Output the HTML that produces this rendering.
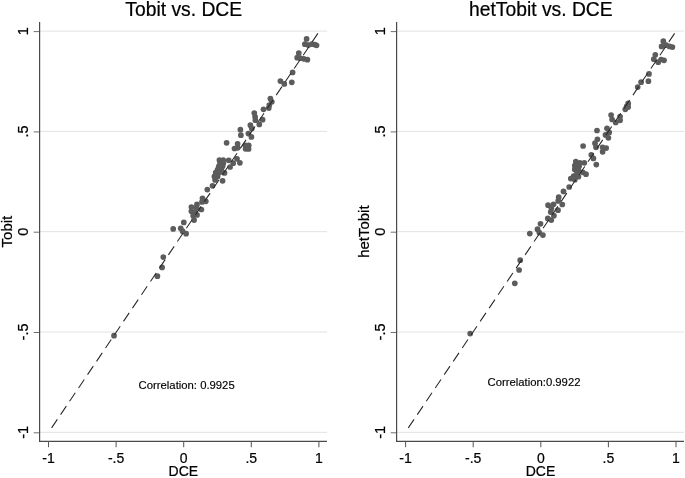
<!DOCTYPE html>
<html><head><meta charset="utf-8"><title>Tobit vs. DCE</title>
<style>
html,body{margin:0;padding:0;background:#fff;overflow:hidden}
svg{display:block}
text{font-family:"Liberation Sans",Arial,sans-serif;fill:#000;stroke:#000;stroke-width:0.22px}
.t{font-size:14px}
.h{font-size:19.3px}
.c{font-size:11.3px;stroke-width:0.15px}
circle{fill:#5c5c5c}
</style></head><body>
<svg width="685" height="478" viewBox="0 0 685 478">
<rect width="685" height="478" fill="#fff"/>
<g>
<line x1="39.5" y1="31.1" x2="327.0" y2="31.1" stroke="#e2e2e2" stroke-width="1"/>
<line x1="39.5" y1="131.4" x2="327.0" y2="131.4" stroke="#e2e2e2" stroke-width="1"/>
<line x1="39.5" y1="231.7" x2="327.0" y2="231.7" stroke="#e2e2e2" stroke-width="1"/>
<line x1="39.5" y1="332.0" x2="327.0" y2="332.0" stroke="#e2e2e2" stroke-width="1"/>
<line x1="39.5" y1="432.3" x2="327.0" y2="432.3" stroke="#e2e2e2" stroke-width="1"/>
<circle cx="306.6" cy="38.9" r="2.85"/>
<circle cx="304.9" cy="44.2" r="2.85"/>
<circle cx="308.3" cy="45.1" r="2.85"/>
<circle cx="311.8" cy="44.1" r="2.85"/>
<circle cx="314.6" cy="44.5" r="2.85"/>
<circle cx="316.5" cy="45.3" r="2.85"/>
<circle cx="298.8" cy="53.1" r="2.85"/>
<circle cx="297.2" cy="57.7" r="2.85"/>
<circle cx="300.2" cy="58.2" r="2.85"/>
<circle cx="303.8" cy="58.8" r="2.85"/>
<circle cx="307.4" cy="59.7" r="2.85"/>
<circle cx="292.6" cy="72.4" r="2.85"/>
<circle cx="280.4" cy="81.1" r="2.85"/>
<circle cx="284.3" cy="83.9" r="2.85"/>
<circle cx="291.8" cy="82.3" r="2.85"/>
<circle cx="270.4" cy="98.7" r="2.85"/>
<circle cx="271.8" cy="101.8" r="2.85"/>
<circle cx="269.3" cy="105.1" r="2.85"/>
<circle cx="268.8" cy="108.1" r="2.85"/>
<circle cx="263.5" cy="109.3" r="2.85"/>
<circle cx="254.3" cy="113.0" r="2.85"/>
<circle cx="255.1" cy="116.8" r="2.85"/>
<circle cx="255.4" cy="120.2" r="2.85"/>
<circle cx="262.6" cy="119.7" r="2.85"/>
<circle cx="259.3" cy="124.4" r="2.85"/>
<circle cx="250.4" cy="125.2" r="2.85"/>
<circle cx="251.8" cy="128.5" r="2.85"/>
<circle cx="240.4" cy="129.7" r="2.85"/>
<circle cx="248.4" cy="133.6" r="2.85"/>
<circle cx="240.9" cy="135.2" r="2.85"/>
<circle cx="251.4" cy="136.9" r="2.85"/>
<circle cx="226.6" cy="142.8" r="2.85"/>
<circle cx="237.6" cy="143.8" r="2.85"/>
<circle cx="234.5" cy="148.5" r="2.85"/>
<circle cx="237.6" cy="147.8" r="2.85"/>
<circle cx="245.4" cy="145.3" r="2.85"/>
<circle cx="248.7" cy="145.4" r="2.85"/>
<circle cx="245.6" cy="148.8" r="2.85"/>
<circle cx="248.6" cy="149.0" r="2.85"/>
<circle cx="237.0" cy="158.8" r="2.85"/>
<circle cx="239.9" cy="162.8" r="2.85"/>
<circle cx="219.4" cy="160.1" r="2.85"/>
<circle cx="223.2" cy="160.1" r="2.85"/>
<circle cx="228.7" cy="160.3" r="2.85"/>
<circle cx="220.1" cy="163.2" r="2.85"/>
<circle cx="223.3" cy="163.2" r="2.85"/>
<circle cx="233.2" cy="163.2" r="2.85"/>
<circle cx="218.8" cy="166.3" r="2.85"/>
<circle cx="222.6" cy="166.3" r="2.85"/>
<circle cx="230.1" cy="167.0" r="2.85"/>
<circle cx="217.6" cy="169.5" r="2.85"/>
<circle cx="221.3" cy="169.5" r="2.85"/>
<circle cx="215.7" cy="172.6" r="2.85"/>
<circle cx="219.4" cy="172.6" r="2.85"/>
<circle cx="224.5" cy="172.9" r="2.85"/>
<circle cx="214.4" cy="176.4" r="2.85"/>
<circle cx="217.6" cy="176.4" r="2.85"/>
<circle cx="215.1" cy="179.9" r="2.85"/>
<circle cx="222.6" cy="180.8" r="2.85"/>
<circle cx="212.5" cy="185.8" r="2.85"/>
<circle cx="207.3" cy="189.6" r="2.85"/>
<circle cx="202.5" cy="198.3" r="2.85"/>
<circle cx="205.8" cy="201.3" r="2.85"/>
<circle cx="202.0" cy="201.9" r="2.85"/>
<circle cx="197.0" cy="204.4" r="2.85"/>
<circle cx="191.4" cy="207.0" r="2.85"/>
<circle cx="196.4" cy="207.6" r="2.85"/>
<circle cx="201.4" cy="209.5" r="2.85"/>
<circle cx="191.4" cy="211.3" r="2.85"/>
<circle cx="195.1" cy="212.0" r="2.85"/>
<circle cx="197.0" cy="214.9" r="2.85"/>
<circle cx="193.2" cy="215.7" r="2.85"/>
<circle cx="194.1" cy="220.1" r="2.85"/>
<circle cx="183.8" cy="222.4" r="2.85"/>
<circle cx="180.7" cy="228.3" r="2.85"/>
<circle cx="173.2" cy="228.9" r="2.85"/>
<circle cx="182.6" cy="231.2" r="2.85"/>
<circle cx="186.1" cy="233.7" r="2.85"/>
<circle cx="163.3" cy="257.1" r="2.85"/>
<circle cx="162.1" cy="267.4" r="2.85"/>
<circle cx="157.4" cy="276.2" r="2.85"/>
<circle cx="114.0" cy="335.7" r="2.85"/>
<line x1="51.6" y1="427.9" x2="317.9" y2="33.4" stroke="#262626" stroke-width="1.05" stroke-dasharray="10.26 5.8"/>
<line x1="39.6" y1="22" x2="39.6" y2="441.9" stroke="#4a4a4a" stroke-width="1.2"/>
<line x1="39.0" y1="441.35" x2="327.0" y2="441.35" stroke="#4a4a4a" stroke-width="1.1"/>
<line x1="33.7" y1="31.6" x2="39.5" y2="31.6" stroke="#555" stroke-width="0.85"/>
<text class="t" transform="translate(27.7,31.1) rotate(-90)" text-anchor="middle" style="font-size:14.5px">1</text>
<line x1="33.7" y1="131.9" x2="39.5" y2="131.9" stroke="#555" stroke-width="0.85"/>
<text class="t" transform="translate(27.7,131.4) rotate(-90)" text-anchor="middle" style="font-size:14.5px">.5</text>
<line x1="33.7" y1="232.2" x2="39.5" y2="232.2" stroke="#555" stroke-width="0.85"/>
<text class="t" transform="translate(27.7,231.7) rotate(-90)" text-anchor="middle" style="font-size:14.5px">0</text>
<line x1="33.7" y1="332.5" x2="39.5" y2="332.5" stroke="#555" stroke-width="0.85"/>
<text class="t" transform="translate(27.7,332.0) rotate(-90)" text-anchor="middle" style="font-size:14.5px">-.5</text>
<line x1="33.7" y1="432.8" x2="39.5" y2="432.8" stroke="#555" stroke-width="0.85"/>
<text class="t" transform="translate(27.7,432.3) rotate(-90)" text-anchor="middle" style="font-size:14.5px">-1</text>
<line x1="48.5" y1="441.4" x2="48.5" y2="447.2" stroke="#5a5a5a" stroke-width="1.05"/>
<text class="t" x="48.5" y="462.6" text-anchor="middle">-1</text>
<line x1="116.1" y1="441.4" x2="116.1" y2="447.2" stroke="#5a5a5a" stroke-width="1.05"/>
<text class="t" x="116.1" y="462.6" text-anchor="middle">-.5</text>
<line x1="183.7" y1="441.4" x2="183.7" y2="447.2" stroke="#5a5a5a" stroke-width="1.05"/>
<text class="t" x="183.7" y="462.6" text-anchor="middle">0</text>
<line x1="251.29999999999998" y1="441.4" x2="251.29999999999998" y2="447.2" stroke="#5a5a5a" stroke-width="1.05"/>
<text class="t" x="251.29999999999998" y="462.6" text-anchor="middle">.5</text>
<line x1="318.9" y1="441.4" x2="318.9" y2="447.2" stroke="#5a5a5a" stroke-width="1.05"/>
<text class="t" x="318.9" y="462.6" text-anchor="middle">1</text>
<text class="t" x="183.39999999999998" y="476" text-anchor="middle">DCE</text>
<text class="t" transform="translate(11.7,231.6) rotate(-90) scale(1.068,1)" text-anchor="middle">Tobit</text>
<text class="h" x="183.7" y="15.6" text-anchor="middle">Tobit vs. DCE</text>
<text class="c" x="138.6" y="388.9">Correlation: 0.9925</text>
</g>
<g>
<line x1="396.5" y1="31.1" x2="684.0" y2="31.1" stroke="#e2e2e2" stroke-width="1"/>
<line x1="396.5" y1="131.4" x2="684.0" y2="131.4" stroke="#e2e2e2" stroke-width="1"/>
<line x1="396.5" y1="231.7" x2="684.0" y2="231.7" stroke="#e2e2e2" stroke-width="1"/>
<line x1="396.5" y1="332.0" x2="684.0" y2="332.0" stroke="#e2e2e2" stroke-width="1"/>
<line x1="396.5" y1="432.3" x2="684.0" y2="432.3" stroke="#e2e2e2" stroke-width="1"/>
<circle cx="663.3" cy="41.2" r="2.85"/>
<circle cx="661.6" cy="46.4" r="2.85"/>
<circle cx="666.2" cy="45.2" r="2.85"/>
<circle cx="669.5" cy="46.4" r="2.85"/>
<circle cx="672.4" cy="47.1" r="2.85"/>
<circle cx="655.3" cy="54.8" r="2.85"/>
<circle cx="653.8" cy="59.2" r="2.85"/>
<circle cx="658.2" cy="62.2" r="2.85"/>
<circle cx="661.1" cy="59.5" r="2.85"/>
<circle cx="664.0" cy="60.3" r="2.85"/>
<circle cx="649.0" cy="73.9" r="2.85"/>
<circle cx="648.4" cy="81.2" r="2.85"/>
<circle cx="641.1" cy="82.2" r="2.85"/>
<circle cx="637.7" cy="87.1" r="2.85"/>
<circle cx="628.2" cy="103.4" r="2.85"/>
<circle cx="626.7" cy="106.4" r="2.85"/>
<circle cx="625.3" cy="109.3" r="2.85"/>
<circle cx="628.2" cy="107.1" r="2.85"/>
<circle cx="611.1" cy="115.1" r="2.85"/>
<circle cx="620.1" cy="116.6" r="2.85"/>
<circle cx="612.1" cy="119.5" r="2.85"/>
<circle cx="620.1" cy="120.3" r="2.85"/>
<circle cx="615.7" cy="122.5" r="2.85"/>
<circle cx="607.0" cy="128.3" r="2.85"/>
<circle cx="597.0" cy="130.5" r="2.85"/>
<circle cx="609.2" cy="132.4" r="2.85"/>
<circle cx="605.5" cy="134.9" r="2.85"/>
<circle cx="608.4" cy="137.8" r="2.85"/>
<circle cx="597.4" cy="139.3" r="2.85"/>
<circle cx="595.0" cy="143.2" r="2.85"/>
<circle cx="596.0" cy="147.3" r="2.85"/>
<circle cx="602.6" cy="147.3" r="2.85"/>
<circle cx="606.2" cy="148.1" r="2.85"/>
<circle cx="583.1" cy="146.0" r="2.85"/>
<circle cx="602.6" cy="151.8" r="2.85"/>
<circle cx="591.3" cy="154.8" r="2.85"/>
<circle cx="593.4" cy="158.4" r="2.85"/>
<circle cx="596.3" cy="164.6" r="2.85"/>
<circle cx="575.8" cy="161.6" r="2.85"/>
<circle cx="579.9" cy="162.8" r="2.85"/>
<circle cx="584.3" cy="162.8" r="2.85"/>
<circle cx="574.8" cy="165.7" r="2.85"/>
<circle cx="579.2" cy="166.0" r="2.85"/>
<circle cx="574.8" cy="169.4" r="2.85"/>
<circle cx="578.4" cy="169.8" r="2.85"/>
<circle cx="577.0" cy="172.8" r="2.85"/>
<circle cx="582.8" cy="172.3" r="2.85"/>
<circle cx="586.0" cy="174.2" r="2.85"/>
<circle cx="573.7" cy="176.0" r="2.85"/>
<circle cx="578.4" cy="176.7" r="2.85"/>
<circle cx="570.8" cy="178.6" r="2.85"/>
<circle cx="574.8" cy="179.7" r="2.85"/>
<circle cx="569.2" cy="187.0" r="2.85"/>
<circle cx="563.5" cy="191.4" r="2.85"/>
<circle cx="558.7" cy="197.2" r="2.85"/>
<circle cx="558.2" cy="200.9" r="2.85"/>
<circle cx="562.3" cy="204.5" r="2.85"/>
<circle cx="548.1" cy="205.2" r="2.85"/>
<circle cx="553.5" cy="204.3" r="2.85"/>
<circle cx="551.4" cy="208.4" r="2.85"/>
<circle cx="558.0" cy="210.2" r="2.85"/>
<circle cx="550.7" cy="212.1" r="2.85"/>
<circle cx="553.9" cy="215.7" r="2.85"/>
<circle cx="547.8" cy="218.4" r="2.85"/>
<circle cx="551.3" cy="220.1" r="2.85"/>
<circle cx="540.5" cy="223.8" r="2.85"/>
<circle cx="537.5" cy="229.2" r="2.85"/>
<circle cx="529.8" cy="233.6" r="2.85"/>
<circle cx="539.3" cy="232.6" r="2.85"/>
<circle cx="542.9" cy="235.1" r="2.85"/>
<circle cx="520.2" cy="260.2" r="2.85"/>
<circle cx="519.1" cy="270.0" r="2.85"/>
<circle cx="514.8" cy="283.3" r="2.85"/>
<circle cx="470.2" cy="333.6" r="2.85"/>
<line x1="408.3" y1="427.9" x2="674.6" y2="33.4" stroke="#262626" stroke-width="1.05" stroke-dasharray="10.26 5.8"/>
<line x1="396.6" y1="22" x2="396.6" y2="441.9" stroke="#4a4a4a" stroke-width="1.2"/>
<line x1="396.0" y1="441.35" x2="684.0" y2="441.35" stroke="#4a4a4a" stroke-width="1.1"/>
<line x1="390.7" y1="31.6" x2="396.5" y2="31.6" stroke="#555" stroke-width="0.85"/>
<text class="t" transform="translate(384.7,31.1) rotate(-90)" text-anchor="middle" style="font-size:14.5px">1</text>
<line x1="390.7" y1="131.9" x2="396.5" y2="131.9" stroke="#555" stroke-width="0.85"/>
<text class="t" transform="translate(384.7,131.4) rotate(-90)" text-anchor="middle" style="font-size:14.5px">.5</text>
<line x1="390.7" y1="232.2" x2="396.5" y2="232.2" stroke="#555" stroke-width="0.85"/>
<text class="t" transform="translate(384.7,231.7) rotate(-90)" text-anchor="middle" style="font-size:14.5px">0</text>
<line x1="390.7" y1="332.5" x2="396.5" y2="332.5" stroke="#555" stroke-width="0.85"/>
<text class="t" transform="translate(384.7,332.0) rotate(-90)" text-anchor="middle" style="font-size:14.5px">-.5</text>
<line x1="390.7" y1="432.8" x2="396.5" y2="432.8" stroke="#555" stroke-width="0.85"/>
<text class="t" transform="translate(384.7,432.3) rotate(-90)" text-anchor="middle" style="font-size:14.5px">-1</text>
<line x1="405.6" y1="441.4" x2="405.6" y2="447.2" stroke="#5a5a5a" stroke-width="1.05"/>
<text class="t" x="405.6" y="462.6" text-anchor="middle">-1</text>
<line x1="473.20000000000005" y1="441.4" x2="473.20000000000005" y2="447.2" stroke="#5a5a5a" stroke-width="1.05"/>
<text class="t" x="473.20000000000005" y="462.6" text-anchor="middle">-.5</text>
<line x1="540.8" y1="441.4" x2="540.8" y2="447.2" stroke="#5a5a5a" stroke-width="1.05"/>
<text class="t" x="540.8" y="462.6" text-anchor="middle">0</text>
<line x1="608.4" y1="441.4" x2="608.4" y2="447.2" stroke="#5a5a5a" stroke-width="1.05"/>
<text class="t" x="608.4" y="462.6" text-anchor="middle">.5</text>
<line x1="676.0" y1="441.4" x2="676.0" y2="447.2" stroke="#5a5a5a" stroke-width="1.05"/>
<text class="t" x="676.0" y="462.6" text-anchor="middle">1</text>
<text class="t" x="540.5" y="476" text-anchor="middle">DCE</text>
<text class="t" transform="translate(368.7,231.6) rotate(-90) scale(1.068,1)" text-anchor="middle">hetTobit</text>
<text class="h" x="540.8" y="15.6" text-anchor="middle">hetTobit vs. DCE</text>
<text class="c" x="487.5" y="385.5">Correlation:0.9922</text>
</g>
</svg>
</body></html>
